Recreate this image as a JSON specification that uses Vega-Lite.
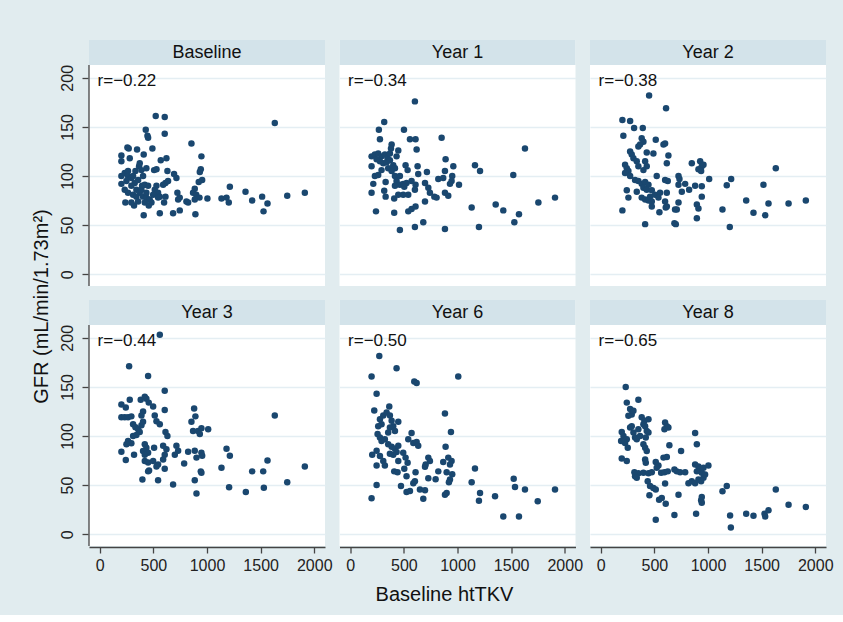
{
"$schema":"https://vega.github.io/schema/vega-lite/v6.json",
"background":"#e1ecef",
"padding":{"left":31,"top":40,"right":10,"bottom":10},
"config":{"font":"Liberation Sans","view":{"fill":"white","stroke":null},
 "header":{"labels":false,"title":null,"labelPadding":0,"titlePadding":0,"labelFontSize":0},
 "headerFacet":{"labels":false,"title":null,"labelPadding":0,"titlePadding":0,"labelFontSize":0}},
"data":{"values":[
{"panel":"Baseline","r":"r=−0.22"},{"panel":"Year 1","r":"r=−0.34"},{"panel":"Year 2","r":"r=−0.38"},{"panel":"Year 3","r":"r=−0.44"},{"panel":"Year 6","r":"r=−0.50"},{"panel":"Year 8","r":"r=−0.65"},
{"panel":"Baseline","htTKV":522,"GFR":161},{"panel":"Baseline","htTKV":606,"GFR":160},{"panel":"Baseline","htTKV":1632,"GFR":154},{"panel":"Baseline","htTKV":429,"GFR":147},{"panel":"Baseline","htTKV":445,"GFR":141},{"panel":"Baseline","htTKV":451,"GFR":139},{"panel":"Baseline","htTKV":606,"GFR":143},{"panel":"Baseline","htTKV":855,"GFR":133},{"panel":"Baseline","htTKV":258,"GFR":129},{"panel":"Baseline","htTKV":270,"GFR":128},{"panel":"Baseline","htTKV":348,"GFR":127},{"panel":"Baseline","htTKV":491,"GFR":128},{"panel":"Baseline","htTKV":202,"GFR":121},{"panel":"Baseline","htTKV":202,"GFR":115},{"panel":"Baseline","htTKV":280,"GFR":118},{"panel":"Baseline","htTKV":410,"GFR":122},{"panel":"Baseline","htTKV":569,"GFR":116},{"panel":"Baseline","htTKV":622,"GFR":118},{"panel":"Baseline","htTKV":948,"GFR":120},{"panel":"Baseline","htTKV":367,"GFR":110},{"panel":"Baseline","htTKV":389,"GFR":106},{"panel":"Baseline","htTKV":435,"GFR":108},{"panel":"Baseline","htTKV":507,"GFR":106},{"panel":"Baseline","htTKV":529,"GFR":107},{"panel":"Baseline","htTKV":631,"GFR":105},{"panel":"Baseline","htTKV":942,"GFR":107},{"panel":"Baseline","htTKV":933,"GFR":104},{"panel":"Baseline","htTKV":693,"GFR":102},{"panel":"Baseline","htTKV":715,"GFR":98},{"panel":"Baseline","htTKV":955,"GFR":96},{"panel":"Baseline","htTKV":923,"GFR":94},{"panel":"Baseline","htTKV":886,"GFR":87},{"panel":"Baseline","htTKV":870,"GFR":83},{"panel":"Baseline","htTKV":900,"GFR":81},{"panel":"Baseline","htTKV":930,"GFR":78},{"panel":"Baseline","htTKV":886,"GFR":76},{"panel":"Baseline","htTKV":724,"GFR":83},{"panel":"Baseline","htTKV":746,"GFR":78},{"panel":"Baseline","htTKV":731,"GFR":76},{"panel":"Baseline","htTKV":808,"GFR":74},{"panel":"Baseline","htTKV":824,"GFR":73},{"panel":"Baseline","htTKV":1004,"GFR":77},{"panel":"Baseline","htTKV":1135,"GFR":77},{"panel":"Baseline","htTKV":1182,"GFR":78},{"panel":"Baseline","htTKV":1213,"GFR":89},{"panel":"Baseline","htTKV":1203,"GFR":73},{"panel":"Baseline","htTKV":1359,"GFR":84},{"panel":"Baseline","htTKV":1421,"GFR":75},{"panel":"Baseline","htTKV":1514,"GFR":79},{"panel":"Baseline","htTKV":1527,"GFR":64},{"panel":"Baseline","htTKV":1564,"GFR":72},{"panel":"Baseline","htTKV":1748,"GFR":80},{"panel":"Baseline","htTKV":1912,"GFR":83},{"panel":"Baseline","htTKV":239,"GFR":73},{"panel":"Baseline","htTKV":320,"GFR":70},{"panel":"Baseline","htTKV":410,"GFR":60},{"panel":"Baseline","htTKV":560,"GFR":62},{"panel":"Baseline","htTKV":684,"GFR":62},{"panel":"Baseline","htTKV":746,"GFR":65},{"panel":"Baseline","htTKV":892,"GFR":61},{"panel":"Baseline","htTKV":233,"GFR":103},{"panel":"Baseline","htTKV":264,"GFR":100},{"panel":"Baseline","htTKV":295,"GFR":98},{"panel":"Baseline","htTKV":249,"GFR":95},{"panel":"Baseline","htTKV":202,"GFR":92},{"panel":"Baseline","htTKV":326,"GFR":93},{"panel":"Baseline","htTKV":358,"GFR":96},{"panel":"Baseline","htTKV":404,"GFR":100},{"panel":"Baseline","htTKV":420,"GFR":91},{"panel":"Baseline","htTKV":451,"GFR":90},{"panel":"Baseline","htTKV":295,"GFR":90},{"panel":"Baseline","htTKV":264,"GFR":83},{"panel":"Baseline","htTKV":311,"GFR":81},{"panel":"Baseline","htTKV":342,"GFR":86},{"panel":"Baseline","htTKV":373,"GFR":83},{"panel":"Baseline","htTKV":404,"GFR":79},{"panel":"Baseline","htTKV":435,"GFR":78},{"panel":"Baseline","htTKV":466,"GFR":76},{"panel":"Baseline","htTKV":482,"GFR":73},{"panel":"Baseline","htTKV":295,"GFR":73},{"panel":"Baseline","htTKV":342,"GFR":79},{"panel":"Baseline","htTKV":389,"GFR":86},{"panel":"Baseline","htTKV":513,"GFR":86},{"panel":"Baseline","htTKV":544,"GFR":83},{"panel":"Baseline","htTKV":560,"GFR":79},{"panel":"Baseline","htTKV":591,"GFR":91},{"panel":"Baseline","htTKV":613,"GFR":93},{"panel":"Baseline","htTKV":637,"GFR":95},{"panel":"Baseline","htTKV":529,"GFR":90},{"panel":"Baseline","htTKV":498,"GFR":81},{"panel":"Baseline","htTKV":435,"GFR":83},{"panel":"Baseline","htTKV":264,"GFR":105},{"panel":"Baseline","htTKV":333,"GFR":105},{"panel":"Baseline","htTKV":373,"GFR":113},{"panel":"Baseline","htTKV":420,"GFR":73},{"panel":"Baseline","htTKV":457,"GFR":70},{"panel":"Baseline","htTKV":600,"GFR":73},{"panel":"Baseline","htTKV":613,"GFR":79},{"panel":"Baseline","htTKV":544,"GFR":78},{"panel":"Baseline","htTKV":358,"GFR":74},{"panel":"Baseline","htTKV":395,"GFR":90},{"panel":"Baseline","htTKV":311,"GFR":100},{"panel":"Baseline","htTKV":233,"GFR":86},{"panel":"Baseline","htTKV":202,"GFR":100},
{"panel":"Year 1","htTKV":603,"GFR":176},{"panel":"Year 1","htTKV":317,"GFR":155},{"panel":"Year 1","htTKV":267,"GFR":147},{"panel":"Year 1","htTKV":501,"GFR":147},{"panel":"Year 1","htTKV":277,"GFR":137.5},{"panel":"Year 1","htTKV":557,"GFR":137.5},{"panel":"Year 1","htTKV":609,"GFR":137.5},{"panel":"Year 1","htTKV":852,"GFR":139},{"panel":"Year 1","htTKV":386,"GFR":132},{"panel":"Year 1","htTKV":380,"GFR":128},{"panel":"Year 1","htTKV":448,"GFR":126},{"panel":"Year 1","htTKV":619,"GFR":127},{"panel":"Year 1","htTKV":1629,"GFR":128},{"panel":"Year 1","htTKV":199,"GFR":120},{"panel":"Year 1","htTKV":230,"GFR":122},{"panel":"Year 1","htTKV":261,"GFR":123},{"panel":"Year 1","htTKV":292,"GFR":120},{"panel":"Year 1","htTKV":323,"GFR":122},{"panel":"Year 1","htTKV":348,"GFR":118},{"panel":"Year 1","htTKV":199,"GFR":110},{"panel":"Year 1","htTKV":277,"GFR":115},{"panel":"Year 1","htTKV":308,"GFR":113},{"panel":"Year 1","htTKV":339,"GFR":114},{"panel":"Year 1","htTKV":370,"GFR":116},{"panel":"Year 1","htTKV":401,"GFR":111},{"panel":"Year 1","htTKV":417,"GFR":108},{"panel":"Year 1","htTKV":354,"GFR":108},{"panel":"Year 1","htTKV":386,"GFR":105},{"panel":"Year 1","htTKV":432,"GFR":120},{"panel":"Year 1","htTKV":516,"GFR":111},{"panel":"Year 1","htTKV":535,"GFR":106},{"panel":"Year 1","htTKV":628,"GFR":110},{"panel":"Year 1","htTKV":889,"GFR":117},{"panel":"Year 1","htTKV":961,"GFR":110},{"panel":"Year 1","htTKV":883,"GFR":105},{"panel":"Year 1","htTKV":1163,"GFR":111},{"panel":"Year 1","htTKV":1210,"GFR":105},{"panel":"Year 1","htTKV":1520,"GFR":101},{"panel":"Year 1","htTKV":230,"GFR":100},{"panel":"Year 1","htTKV":261,"GFR":101},{"panel":"Year 1","htTKV":215,"GFR":92},{"panel":"Year 1","htTKV":330,"GFR":94},{"panel":"Year 1","htTKV":417,"GFR":100},{"panel":"Year 1","htTKV":432,"GFR":95},{"panel":"Year 1","htTKV":463,"GFR":91},{"panel":"Year 1","htTKV":494,"GFR":92},{"panel":"Year 1","htTKV":525,"GFR":93},{"panel":"Year 1","htTKV":634,"GFR":102},{"panel":"Year 1","htTKV":715,"GFR":104},{"panel":"Year 1","htTKV":572,"GFR":95},{"panel":"Year 1","htTKV":609,"GFR":91},{"panel":"Year 1","htTKV":603,"GFR":86},{"panel":"Year 1","htTKV":697,"GFR":93},{"panel":"Year 1","htTKV":821,"GFR":97},{"panel":"Year 1","htTKV":867,"GFR":98},{"panel":"Year 1","htTKV":951,"GFR":100},{"panel":"Year 1","htTKV":945,"GFR":95},{"panel":"Year 1","htTKV":930,"GFR":92},{"panel":"Year 1","htTKV":1014,"GFR":91},{"panel":"Year 1","htTKV":728,"GFR":88},{"panel":"Year 1","htTKV":743,"GFR":83},{"panel":"Year 1","htTKV":784,"GFR":79},{"panel":"Year 1","htTKV":805,"GFR":78},{"panel":"Year 1","htTKV":883,"GFR":83},{"panel":"Year 1","htTKV":914,"GFR":80},{"panel":"Year 1","htTKV":199,"GFR":83},{"panel":"Year 1","htTKV":317,"GFR":85},{"panel":"Year 1","htTKV":330,"GFR":79},{"panel":"Year 1","htTKV":410,"GFR":77},{"panel":"Year 1","htTKV":448,"GFR":81},{"panel":"Year 1","htTKV":494,"GFR":81},{"panel":"Year 1","htTKV":541,"GFR":81},{"panel":"Year 1","htTKV":417,"GFR":90},{"panel":"Year 1","htTKV":697,"GFR":74},{"panel":"Year 1","htTKV":1132,"GFR":68},{"panel":"Year 1","htTKV":1356,"GFR":71},{"panel":"Year 1","htTKV":1427,"GFR":65},{"panel":"Year 1","htTKV":1573,"GFR":61},{"panel":"Year 1","htTKV":1530,"GFR":53},{"panel":"Year 1","htTKV":1754,"GFR":73},{"panel":"Year 1","htTKV":1909,"GFR":78},{"panel":"Year 1","htTKV":240,"GFR":64},{"panel":"Year 1","htTKV":410,"GFR":62.5},{"panel":"Year 1","htTKV":541,"GFR":64},{"panel":"Year 1","htTKV":572,"GFR":66.5},{"panel":"Year 1","htTKV":609,"GFR":69},{"panel":"Year 1","htTKV":603,"GFR":48},{"panel":"Year 1","htTKV":681,"GFR":53},{"panel":"Year 1","htTKV":463,"GFR":45},{"panel":"Year 1","htTKV":883,"GFR":46},{"panel":"Year 1","htTKV":1200,"GFR":48},{"panel":"Year 1","htTKV":246,"GFR":117},{"panel":"Year 1","htTKV":370,"GFR":123},{"panel":"Year 1","htTKV":292,"GFR":106},{"panel":"Year 1","htTKV":463,"GFR":100},{"panel":"Year 1","htTKV":504,"GFR":89},
{"panel":"Year 2","htTKV":451,"GFR":182},{"panel":"Year 2","htTKV":609,"GFR":169},{"panel":"Year 2","htTKV":202,"GFR":157},{"panel":"Year 2","htTKV":274,"GFR":156},{"panel":"Year 2","htTKV":311,"GFR":149},{"panel":"Year 2","htTKV":392,"GFR":149},{"panel":"Year 2","htTKV":211,"GFR":141},{"panel":"Year 2","htTKV":382,"GFR":138.5},{"panel":"Year 2","htTKV":398,"GFR":135},{"panel":"Year 2","htTKV":513,"GFR":137},{"panel":"Year 2","htTKV":585,"GFR":132},{"panel":"Year 2","htTKV":600,"GFR":133},{"panel":"Year 2","htTKV":351,"GFR":130},{"panel":"Year 2","htTKV":367,"GFR":132},{"panel":"Year 2","htTKV":274,"GFR":125},{"panel":"Year 2","htTKV":289,"GFR":122},{"panel":"Year 2","htTKV":305,"GFR":118},{"panel":"Year 2","htTKV":429,"GFR":124},{"panel":"Year 2","htTKV":491,"GFR":123},{"panel":"Year 2","htTKV":631,"GFR":121},{"panel":"Year 2","htTKV":336,"GFR":115},{"panel":"Year 2","htTKV":351,"GFR":110},{"panel":"Year 2","htTKV":227,"GFR":111.5},{"panel":"Year 2","htTKV":243,"GFR":108},{"panel":"Year 2","htTKV":258,"GFR":105},{"panel":"Year 2","htTKV":227,"GFR":103},{"panel":"Year 2","htTKV":274,"GFR":100},{"panel":"Year 2","htTKV":414,"GFR":115},{"panel":"Year 2","htTKV":429,"GFR":110},{"panel":"Year 2","htTKV":398,"GFR":106},{"panel":"Year 2","htTKV":616,"GFR":113},{"panel":"Year 2","htTKV":849,"GFR":113},{"panel":"Year 2","htTKV":927,"GFR":115},{"panel":"Year 2","htTKV":942,"GFR":110},{"panel":"Year 2","htTKV":958,"GFR":111.5},{"panel":"Year 2","htTKV":911,"GFR":107},{"panel":"Year 2","htTKV":936,"GFR":105},{"panel":"Year 2","htTKV":1632,"GFR":108},{"panel":"Year 2","htTKV":522,"GFR":100},{"panel":"Year 2","htTKV":725,"GFR":100},{"panel":"Year 2","htTKV":734,"GFR":97},{"panel":"Year 2","htTKV":1011,"GFR":97},{"panel":"Year 2","htTKV":1216,"GFR":97},{"panel":"Year 2","htTKV":320,"GFR":96},{"panel":"Year 2","htTKV":351,"GFR":95},{"panel":"Year 2","htTKV":382,"GFR":92},{"panel":"Year 2","htTKV":414,"GFR":94},{"panel":"Year 2","htTKV":445,"GFR":91},{"panel":"Year 2","htTKV":398,"GFR":88},{"panel":"Year 2","htTKV":429,"GFR":86},{"panel":"Year 2","htTKV":600,"GFR":96},{"panel":"Year 2","htTKV":625,"GFR":95},{"panel":"Year 2","htTKV":787,"GFR":92},{"panel":"Year 2","htTKV":725,"GFR":91},{"panel":"Year 2","htTKV":880,"GFR":90},{"panel":"Year 2","htTKV":942,"GFR":89.5},{"panel":"Year 2","htTKV":1175,"GFR":90.5},{"panel":"Year 2","htTKV":1517,"GFR":91},{"panel":"Year 2","htTKV":243,"GFR":85.5},{"panel":"Year 2","htTKV":336,"GFR":84},{"panel":"Year 2","htTKV":258,"GFR":78},{"panel":"Year 2","htTKV":476,"GFR":85.5},{"panel":"Year 2","htTKV":507,"GFR":81},{"panel":"Year 2","htTKV":460,"GFR":79},{"panel":"Year 2","htTKV":553,"GFR":83},{"panel":"Year 2","htTKV":538,"GFR":78},{"panel":"Year 2","htTKV":616,"GFR":83},{"panel":"Year 2","htTKV":756,"GFR":84},{"panel":"Year 2","htTKV":824,"GFR":86},{"panel":"Year 2","htTKV":942,"GFR":79},{"panel":"Year 2","htTKV":382,"GFR":78},{"panel":"Year 2","htTKV":414,"GFR":76},{"panel":"Year 2","htTKV":445,"GFR":75},{"panel":"Year 2","htTKV":476,"GFR":74},{"panel":"Year 2","htTKV":600,"GFR":74},{"panel":"Year 2","htTKV":616,"GFR":69},{"panel":"Year 2","htTKV":725,"GFR":73},{"panel":"Year 2","htTKV":709,"GFR":66},{"panel":"Year 2","htTKV":896,"GFR":71},{"panel":"Year 2","htTKV":911,"GFR":67},{"panel":"Year 2","htTKV":1356,"GFR":75},{"panel":"Year 2","htTKV":1564,"GFR":72},{"panel":"Year 2","htTKV":1751,"GFR":72},{"panel":"Year 2","htTKV":1912,"GFR":75},{"panel":"Year 2","htTKV":202,"GFR":65},{"panel":"Year 2","htTKV":476,"GFR":69},{"panel":"Year 2","htTKV":547,"GFR":63},{"panel":"Year 2","htTKV":606,"GFR":68},{"panel":"Year 2","htTKV":693,"GFR":66},{"panel":"Year 2","htTKV":1135,"GFR":66},{"panel":"Year 2","htTKV":1424,"GFR":62.5},{"panel":"Year 2","htTKV":1533,"GFR":60},{"panel":"Year 2","htTKV":896,"GFR":57},{"panel":"Year 2","htTKV":414,"GFR":51},{"panel":"Year 2","htTKV":687,"GFR":52},{"panel":"Year 2","htTKV":700,"GFR":51},{"panel":"Year 2","htTKV":1203,"GFR":48},
{"panel":"Year 3","htTKV":560,"GFR":203},{"panel":"Year 3","htTKV":274,"GFR":171},{"panel":"Year 3","htTKV":451,"GFR":161},{"panel":"Year 3","htTKV":606,"GFR":146},{"panel":"Year 3","htTKV":202,"GFR":132},{"panel":"Year 3","htTKV":243,"GFR":129},{"panel":"Year 3","htTKV":280,"GFR":137},{"panel":"Year 3","htTKV":382,"GFR":137},{"panel":"Year 3","htTKV":420,"GFR":140},{"panel":"Year 3","htTKV":435,"GFR":138},{"panel":"Year 3","htTKV":457,"GFR":134},{"panel":"Year 3","htTKV":498,"GFR":130},{"panel":"Year 3","htTKV":606,"GFR":126.5},{"panel":"Year 3","htTKV":880,"GFR":128},{"panel":"Year 3","htTKV":892,"GFR":120},{"panel":"Year 3","htTKV":202,"GFR":119},{"panel":"Year 3","htTKV":233,"GFR":119},{"panel":"Year 3","htTKV":264,"GFR":119},{"panel":"Year 3","htTKV":295,"GFR":120},{"panel":"Year 3","htTKV":404,"GFR":125},{"panel":"Year 3","htTKV":389,"GFR":121},{"panel":"Year 3","htTKV":513,"GFR":121},{"panel":"Year 3","htTKV":529,"GFR":115},{"panel":"Year 3","htTKV":560,"GFR":112},{"panel":"Year 3","htTKV":1632,"GFR":121},{"panel":"Year 3","htTKV":855,"GFR":114.5},{"panel":"Year 3","htTKV":311,"GFR":112},{"panel":"Year 3","htTKV":333,"GFR":109},{"panel":"Year 3","htTKV":358,"GFR":107},{"panel":"Year 3","htTKV":389,"GFR":111},{"panel":"Year 3","htTKV":404,"GFR":114.5},{"panel":"Year 3","htTKV":373,"GFR":104},{"panel":"Year 3","htTKV":342,"GFR":101},{"panel":"Year 3","htTKV":311,"GFR":100},{"panel":"Year 3","htTKV":613,"GFR":104},{"panel":"Year 3","htTKV":631,"GFR":100},{"panel":"Year 3","htTKV":870,"GFR":105},{"panel":"Year 3","htTKV":917,"GFR":105},{"panel":"Year 3","htTKV":948,"GFR":108},{"panel":"Year 3","htTKV":1011,"GFR":107},{"panel":"Year 3","htTKV":933,"GFR":102},{"panel":"Year 3","htTKV":264,"GFR":95},{"panel":"Year 3","htTKV":295,"GFR":92.6},{"panel":"Year 3","htTKV":249,"GFR":91.6},{"panel":"Year 3","htTKV":420,"GFR":91.6},{"panel":"Year 3","htTKV":435,"GFR":88},{"panel":"Year 3","htTKV":404,"GFR":84.8},{"panel":"Year 3","htTKV":451,"GFR":83},{"panel":"Year 3","htTKV":420,"GFR":81},{"panel":"Year 3","htTKV":591,"GFR":90},{"panel":"Year 3","htTKV":622,"GFR":86.5},{"panel":"Year 3","htTKV":606,"GFR":81},{"panel":"Year 3","htTKV":715,"GFR":90},{"panel":"Year 3","htTKV":731,"GFR":85},{"panel":"Year 3","htTKV":700,"GFR":81},{"panel":"Year 3","htTKV":507,"GFR":88},{"panel":"Year 3","htTKV":202,"GFR":84},{"panel":"Year 3","htTKV":320,"GFR":81},{"panel":"Year 3","htTKV":824,"GFR":84},{"panel":"Year 3","htTKV":886,"GFR":85},{"panel":"Year 3","htTKV":902,"GFR":78},{"panel":"Year 3","htTKV":948,"GFR":83},{"panel":"Year 3","htTKV":955,"GFR":80},{"panel":"Year 3","htTKV":1182,"GFR":87},{"panel":"Year 3","htTKV":1213,"GFR":80},{"panel":"Year 3","htTKV":243,"GFR":75.6},{"panel":"Year 3","htTKV":420,"GFR":74.5},{"panel":"Year 3","htTKV":451,"GFR":73},{"panel":"Year 3","htTKV":498,"GFR":74.5},{"panel":"Year 3","htTKV":544,"GFR":71},{"panel":"Year 3","htTKV":591,"GFR":76},{"panel":"Year 3","htTKV":787,"GFR":72},{"panel":"Year 3","htTKV":606,"GFR":66.7},{"panel":"Year 3","htTKV":460,"GFR":65},{"panel":"Year 3","htTKV":451,"GFR":64},{"panel":"Year 3","htTKV":529,"GFR":69},{"panel":"Year 3","htTKV":942,"GFR":64},{"panel":"Year 3","htTKV":948,"GFR":62.6},{"panel":"Year 3","htTKV":1135,"GFR":67.7},{"panel":"Year 3","htTKV":1421,"GFR":64},{"panel":"Year 3","htTKV":1524,"GFR":64},{"panel":"Year 3","htTKV":1564,"GFR":75},{"panel":"Year 3","htTKV":1912,"GFR":69},{"panel":"Year 3","htTKV":398,"GFR":55.7},{"panel":"Year 3","htTKV":544,"GFR":55},{"panel":"Year 3","htTKV":684,"GFR":50.6},{"panel":"Year 3","htTKV":886,"GFR":55},{"panel":"Year 3","htTKV":902,"GFR":41.4},{"panel":"Year 3","htTKV":1206,"GFR":47.9},{"panel":"Year 3","htTKV":1362,"GFR":43},{"panel":"Year 3","htTKV":1530,"GFR":47.2},{"panel":"Year 3","htTKV":1748,"GFR":53},
{"panel":"Year 6","htTKV":271,"GFR":181.5},{"panel":"Year 6","htTKV":432,"GFR":169},{"panel":"Year 6","htTKV":199,"GFR":160.7},{"panel":"Year 6","htTKV":597,"GFR":155.6},{"panel":"Year 6","htTKV":619,"GFR":154},{"panel":"Year 6","htTKV":1007,"GFR":160.7},{"panel":"Year 6","htTKV":246,"GFR":143},{"panel":"Year 6","htTKV":224,"GFR":126},{"panel":"Year 6","htTKV":364,"GFR":130},{"panel":"Year 6","htTKV":308,"GFR":121},{"panel":"Year 6","htTKV":339,"GFR":124},{"panel":"Year 6","htTKV":370,"GFR":121},{"panel":"Year 6","htTKV":277,"GFR":117},{"panel":"Year 6","htTKV":292,"GFR":112},{"panel":"Year 6","htTKV":261,"GFR":110},{"panel":"Year 6","htTKV":386,"GFR":115.6},{"panel":"Year 6","htTKV":401,"GFR":110},{"panel":"Year 6","htTKV":370,"GFR":108.7},{"panel":"Year 6","htTKV":417,"GFR":105},{"panel":"Year 6","htTKV":354,"GFR":103.6},{"panel":"Year 6","htTKV":448,"GFR":114.5},{"panel":"Year 6","htTKV":883,"GFR":123},{"panel":"Year 6","htTKV":255,"GFR":102},{"panel":"Year 6","htTKV":277,"GFR":98.5},{"panel":"Year 6","htTKV":292,"GFR":95},{"panel":"Year 6","htTKV":323,"GFR":96.8},{"panel":"Year 6","htTKV":572,"GFR":103},{"panel":"Year 6","htTKV":541,"GFR":96.8},{"panel":"Year 6","htTKV":588,"GFR":93},{"panel":"Year 6","htTKV":619,"GFR":94},{"panel":"Year 6","htTKV":634,"GFR":90},{"panel":"Year 6","htTKV":939,"GFR":104},{"panel":"Year 6","htTKV":354,"GFR":91.6},{"panel":"Year 6","htTKV":386,"GFR":89},{"panel":"Year 6","htTKV":417,"GFR":87},{"panel":"Year 6","htTKV":448,"GFR":90},{"panel":"Year 6","htTKV":432,"GFR":83.8},{"panel":"Year 6","htTKV":401,"GFR":81},{"panel":"Year 6","htTKV":370,"GFR":82},{"panel":"Year 6","htTKV":205,"GFR":81},{"panel":"Year 6","htTKV":246,"GFR":85},{"panel":"Year 6","htTKV":494,"GFR":83},{"panel":"Year 6","htTKV":277,"GFR":79.7},{"panel":"Year 6","htTKV":308,"GFR":74.5},{"panel":"Year 6","htTKV":323,"GFR":70},{"panel":"Year 6","htTKV":246,"GFR":70},{"panel":"Year 6","htTKV":516,"GFR":78},{"panel":"Year 6","htTKV":535,"GFR":72.8},{"panel":"Year 6","htTKV":448,"GFR":74.5},{"panel":"Year 6","htTKV":410,"GFR":64},{"panel":"Year 6","htTKV":441,"GFR":63},{"panel":"Year 6","htTKV":889,"GFR":89},{"panel":"Year 6","htTKV":728,"GFR":78},{"panel":"Year 6","htTKV":743,"GFR":74.5},{"panel":"Year 6","htTKV":703,"GFR":71},{"panel":"Year 6","htTKV":697,"GFR":68.7},{"panel":"Year 6","htTKV":821,"GFR":64},{"panel":"Year 6","htTKV":867,"GFR":73.5},{"panel":"Year 6","htTKV":914,"GFR":78},{"panel":"Year 6","htTKV":945,"GFR":74.5},{"panel":"Year 6","htTKV":930,"GFR":71},{"panel":"Year 6","htTKV":899,"GFR":63},{"panel":"Year 6","htTKV":951,"GFR":61},{"panel":"Year 6","htTKV":609,"GFR":63},{"panel":"Year 6","htTKV":588,"GFR":52},{"panel":"Year 6","htTKV":603,"GFR":54},{"panel":"Year 6","htTKV":504,"GFR":66.6},{"panel":"Year 6","htTKV":525,"GFR":59},{"panel":"Year 6","htTKV":728,"GFR":57},{"panel":"Year 6","htTKV":796,"GFR":56},{"panel":"Year 6","htTKV":1163,"GFR":67},{"panel":"Year 6","htTKV":246,"GFR":50},{"panel":"Year 6","htTKV":473,"GFR":49},{"panel":"Year 6","htTKV":525,"GFR":43},{"panel":"Year 6","htTKV":557,"GFR":44},{"panel":"Year 6","htTKV":650,"GFR":45.5},{"panel":"Year 6","htTKV":697,"GFR":44.8},{"panel":"Year 6","htTKV":681,"GFR":36},{"panel":"Year 6","htTKV":883,"GFR":40.3},{"panel":"Year 6","htTKV":899,"GFR":42},{"panel":"Year 6","htTKV":930,"GFR":55.7},{"panel":"Year 6","htTKV":920,"GFR":53},{"panel":"Year 6","htTKV":1132,"GFR":53},{"panel":"Year 6","htTKV":1210,"GFR":42},{"panel":"Year 6","htTKV":1200,"GFR":34},{"panel":"Year 6","htTKV":1350,"GFR":38.6},{"panel":"Year 6","htTKV":1524,"GFR":56.4},{"panel":"Year 6","htTKV":1536,"GFR":48},{"panel":"Year 6","htTKV":1629,"GFR":45.5},{"panel":"Year 6","htTKV":1748,"GFR":33.5},{"panel":"Year 6","htTKV":1909,"GFR":45.5},{"panel":"Year 6","htTKV":199,"GFR":36.6},{"panel":"Year 6","htTKV":1427,"GFR":18},{"panel":"Year 6","htTKV":1573,"GFR":18},
{"panel":"Year 8","htTKV":233,"GFR":150},{"panel":"Year 8","htTKV":351,"GFR":137},{"panel":"Year 8","htTKV":243,"GFR":134},{"panel":"Year 8","htTKV":274,"GFR":127.5},{"panel":"Year 8","htTKV":289,"GFR":122},{"panel":"Year 8","htTKV":258,"GFR":120.7},{"panel":"Year 8","htTKV":305,"GFR":125.8},{"panel":"Year 8","htTKV":382,"GFR":119},{"panel":"Year 8","htTKV":407,"GFR":115.6},{"panel":"Year 8","htTKV":445,"GFR":117},{"panel":"Year 8","htTKV":398,"GFR":112},{"panel":"Year 8","htTKV":196,"GFR":104},{"panel":"Year 8","htTKV":212,"GFR":100},{"panel":"Year 8","htTKV":243,"GFR":96.8},{"panel":"Year 8","htTKV":227,"GFR":93},{"panel":"Year 8","htTKV":190,"GFR":95},{"panel":"Year 8","htTKV":274,"GFR":108.7},{"panel":"Year 8","htTKV":289,"GFR":110},{"panel":"Year 8","htTKV":305,"GFR":103.6},{"panel":"Year 8","htTKV":320,"GFR":98.5},{"panel":"Year 8","htTKV":351,"GFR":107},{"panel":"Year 8","htTKV":367,"GFR":100},{"panel":"Year 8","htTKV":336,"GFR":96.8},{"panel":"Year 8","htTKV":414,"GFR":110},{"panel":"Year 8","htTKV":429,"GFR":105},{"panel":"Year 8","htTKV":445,"GFR":103.6},{"panel":"Year 8","htTKV":420,"GFR":98.5},{"panel":"Year 8","htTKV":398,"GFR":91.6},{"panel":"Year 8","htTKV":414,"GFR":88},{"panel":"Year 8","htTKV":429,"GFR":84.8},{"panel":"Year 8","htTKV":252,"GFR":88},{"panel":"Year 8","htTKV":600,"GFR":113.8},{"panel":"Year 8","htTKV":616,"GFR":110},{"panel":"Year 8","htTKV":594,"GFR":107},{"panel":"Year 8","htTKV":631,"GFR":108.7},{"panel":"Year 8","htTKV":880,"GFR":103},{"panel":"Year 8","htTKV":896,"GFR":91.6},{"panel":"Year 8","htTKV":640,"GFR":90.6},{"panel":"Year 8","htTKV":749,"GFR":84.8},{"panel":"Year 8","htTKV":585,"GFR":78},{"panel":"Year 8","htTKV":616,"GFR":78.6},{"panel":"Year 8","htTKV":196,"GFR":77},{"panel":"Year 8","htTKV":243,"GFR":74.5},{"panel":"Year 8","htTKV":414,"GFR":76},{"panel":"Year 8","htTKV":420,"GFR":72.8},{"panel":"Year 8","htTKV":513,"GFR":73.5},{"panel":"Year 8","htTKV":538,"GFR":70},{"panel":"Year 8","htTKV":522,"GFR":67.7},{"panel":"Year 8","htTKV":687,"GFR":66},{"panel":"Year 8","htTKV":709,"GFR":64},{"panel":"Year 8","htTKV":740,"GFR":63.2},{"panel":"Year 8","htTKV":787,"GFR":63.2},{"panel":"Year 8","htTKV":314,"GFR":63.2},{"panel":"Year 8","htTKV":351,"GFR":62},{"panel":"Year 8","htTKV":398,"GFR":62.6},{"panel":"Year 8","htTKV":445,"GFR":62},{"panel":"Year 8","htTKV":476,"GFR":63.2},{"panel":"Year 8","htTKV":563,"GFR":62.6},{"panel":"Year 8","htTKV":594,"GFR":63.2},{"panel":"Year 8","htTKV":625,"GFR":64},{"panel":"Year 8","htTKV":320,"GFR":59},{"panel":"Year 8","htTKV":336,"GFR":57.4},{"panel":"Year 8","htTKV":880,"GFR":71},{"panel":"Year 8","htTKV":911,"GFR":69},{"panel":"Year 8","htTKV":927,"GFR":66},{"panel":"Year 8","htTKV":942,"GFR":62.6},{"panel":"Year 8","htTKV":958,"GFR":67.7},{"panel":"Year 8","htTKV":896,"GFR":64},{"panel":"Year 8","htTKV":1004,"GFR":70},{"panel":"Year 8","htTKV":818,"GFR":52},{"panel":"Year 8","htTKV":849,"GFR":54},{"panel":"Year 8","htTKV":880,"GFR":52},{"panel":"Year 8","htTKV":911,"GFR":55.7},{"panel":"Year 8","htTKV":936,"GFR":54},{"panel":"Year 8","htTKV":958,"GFR":57.4},{"panel":"Year 8","htTKV":973,"GFR":60.8},{"panel":"Year 8","htTKV":438,"GFR":54},{"panel":"Year 8","htTKV":460,"GFR":49},{"panel":"Year 8","htTKV":491,"GFR":47},{"panel":"Year 8","htTKV":513,"GFR":45.5},{"panel":"Year 8","htTKV":600,"GFR":51.6},{"panel":"Year 8","htTKV":725,"GFR":40.3},{"panel":"Year 8","htTKV":454,"GFR":39.7},{"panel":"Year 8","htTKV":544,"GFR":35},{"panel":"Year 8","htTKV":569,"GFR":37},{"panel":"Year 8","htTKV":606,"GFR":31},{"panel":"Year 8","htTKV":942,"GFR":38},{"panel":"Year 8","htTKV":936,"GFR":34.5},{"panel":"Year 8","htTKV":942,"GFR":32},{"panel":"Year 8","htTKV":1135,"GFR":43.8},{"panel":"Year 8","htTKV":1175,"GFR":49},{"panel":"Year 8","htTKV":1632,"GFR":45.5},{"panel":"Year 8","htTKV":513,"GFR":14.7},{"panel":"Year 8","htTKV":687,"GFR":19.5},{"panel":"Year 8","htTKV":889,"GFR":20.9},{"panel":"Year 8","htTKV":1206,"GFR":19},{"panel":"Year 8","htTKV":1213,"GFR":6.8},{"panel":"Year 8","htTKV":1356,"GFR":20.9},{"panel":"Year 8","htTKV":1424,"GFR":18.8},{"panel":"Year 8","htTKV":1527,"GFR":20.9},{"panel":"Year 8","htTKV":1533,"GFR":18},{"panel":"Year 8","htTKV":1564,"GFR":24.3},{"panel":"Year 8","htTKV":1751,"GFR":30},{"panel":"Year 8","htTKV":1912,"GFR":27.7}
]},
"title":{"text":"Baseline htTKV","orient":"bottom","anchor":"middle","fontSize":20,"fontWeight":"normal","color":"#111","offset":12,"dx":12},
"vconcat":[{
 "title":{"text":"GFR (mL/min/1.73m²)","orient":"left","anchor":"middle","fontSize":20,"fontWeight":"normal","color":"#111","offset":7},
 "facet":{"field":"panel","type":"nominal","sort":["Baseline","Year 1","Year 2","Year 3","Year 6","Year 8"],"header":{"title":null,"labels":false,"labelPadding":0,"titlePadding":0,"labelFontSize":0}},
 "columns":3,
 "spacing":{"row":13,"column":14.5},
 "spec":{
  "width":236,"height":246,
  "layer":[
   {"transform":[{"filter":"datum.r != null"}],
    "mark":{"type":"rect","color":"#d3e3ea"},
    "encoding":{"x":{"datum":-100,"type":"quantitative","title":null},"x2":{"datum":2100},"y":{"datum":213,"type":"quantitative","title":null},"y2":{"datum":238.5}}},
   {"transform":[{"filter":"datum.GFR != null"}],
    "mark":{"type":"circle","size":42,"color":"#1a476f","opacity":1},
    "encoding":{
     "x":{"field":"htTKV","type":"quantitative","title":null,"scale":{"domain":[-100,2100],"nice":false,"zero":false},
      "axis":{"values":[0,500,1000,1500,2000],"format":"d","grid":false,"domainColor":"#444","domainWidth":1.3,"tickColor":"#444","tickWidth":1.3,"tickSize":6,"labelFontSize":16,"labelColor":"#222","labelPadding":4,"labelFlush":false,"labelOverlap":false,"title":null}},
     "y":{"field":"GFR","type":"quantitative","title":null,"scale":{"domain":[-12,238.5],"nice":false,"zero":false},
      "axis":{"values":[0,50,100,150,200],"format":"d","grid":true,"gridColor":"#e4eef3","gridWidth":1.5,"domain":false,"tickColor":"#444","tickWidth":1.3,"tickSize":6,"labelAngle":270,"labelAlign":"center","labelBaseline":"alphabetic","labelPadding":10,"labelFontSize":16,"labelColor":"#222","labelOverlap":false,"title":null}}}},
   {"transform":[{"filter":"datum.r != null && (datum.panel == 'Baseline' || datum.panel == 'Year 3')"}],
    "mark":{"type":"rule","color":"#444","strokeWidth":1.3},
    "encoding":{"x":{"datum":-100,"type":"quantitative","title":null},"y":{"datum":-12,"type":"quantitative","title":null},"y2":{"datum":213}}},
   {"transform":[{"filter":"datum.r != null"}],
    "mark":{"type":"text","fontSize":18,"color":"#111","align":"center","baseline":"middle"},
    "encoding":{"x":{"datum":1000,"type":"quantitative","title":null},"y":{"datum":225.75,"type":"quantitative","title":null},"text":{"field":"panel"}}},
   {"transform":[{"filter":"datum.r != null"}],
    "mark":{"type":"text","fontSize":17,"color":"#111","align":"left","baseline":"middle"},
    "encoding":{"x":{"datum":-20,"type":"quantitative","title":null},"y":{"datum":197,"type":"quantitative","title":null},"text":{"field":"r"}}}
  ]
 }
}]
}
